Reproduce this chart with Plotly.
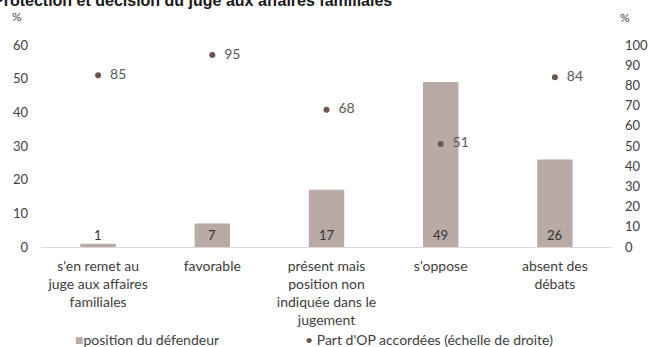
import plotly.graph_objects as go

# Data
categories = [
    "s'en remet au<br>juge aux affaires<br>familiales",
    "favorable",
    "présent mais<br>position non<br>indiquée dans le<br>jugement",
    "s'oppose",
    "absent des<br>débats",
]
position_defendeur = [1, 7, 17, 49, 26]
part_op_accordees = [85, 95, 68, 51, 84]
left_ticks = [0, 10, 20, 30, 40, 50, 60]
right_ticks = [0, 10, 20, 30, 40, 50, 60, 70, 80, 90, 100]

BAR_COLOR = "#b9aaa5"
DOT_COLOR = "#6b5650"
TEXT_COLOR = "#404040"
FONT = "Lato"

fig = go.Figure()

fig.add_trace(go.Bar(
    x=categories, y=position_defendeur,
    name="position du défendeur",
    marker=dict(color=BAR_COLOR, line=dict(width=0)),
    width=0.31,
    showlegend=False,
))

fig.add_trace(go.Scatter(
    x=categories, y=part_op_accordees,
    name="Part d'OP accordées (échelle de droite)",
    mode="markers+text",
    marker=dict(color=DOT_COLOR, size=6),
    text=["\u00a0\u00a0" + str(v) for v in part_op_accordees],
    textposition="middle right",
    textfont=dict(family=FONT, size=14, color="#595959"),
    yaxis="y2",
    showlegend=False,
    cliponaxis=False,
))

annotations = []

# Bar value labels sitting on the baseline
for cat, val in zip(categories, position_defendeur):
    annotations.append(dict(
        x=cat, y=0, xref="x", yref="y",
        text=str(val), showarrow=False,
        yanchor="bottom", yshift=2,
        font=dict(family=FONT, size=13, color="#333333"),
    ))

# Axis unit markers
unit_font = dict(family=FONT, size=12, color=TEXT_COLOR)
annotations += [
    dict(xref="paper", yref="paper", x=-0.042, y=1.139, xanchor="center", yanchor="middle",
         text="%", showarrow=False, font=unit_font),
    dict(xref="paper", yref="paper", x=1.023, y=1.134, xanchor="center", yanchor="middle",
         text="%", showarrow=False, font=unit_font),
]

# Title (runs off the top-left edge)
annotations.append(dict(
    xref="paper", yref="paper", x=-0.088, y=1.218, xanchor="left", yanchor="middle",
    text="<b>Protection et décision du juge aux affaires familiales</b>",
    showarrow=False,
    font=dict(family="Liberation Sans", size=16, color="#1a1a1a"),
))

# Legend
annotations += [
    dict(xref="paper", yref="paper", x=(73 - 41) / 571, y=-0.46, xanchor="left", yanchor="middle",
         text=f"<span style='color:{BAR_COLOR}'>■</span>position du défendeur",
         showarrow=False, font=dict(family=FONT, size=14, color=TEXT_COLOR)),
    dict(xref="paper", yref="paper", x=(303 - 41) / 571, y=-0.46, xanchor="left", yanchor="middle",
         text=f"<span style='color:{DOT_COLOR}'>•</span> Part d'OP accordées (échelle de droite)",
         showarrow=False, font=dict(family=FONT, size=14, color=TEXT_COLOR)),
]

fig.update_layout(
    width=651, height=347,
    margin=dict(l=41, r=39, t=45, b=100, autoexpand=False),
    paper_bgcolor="white", plot_bgcolor="white",
    font=dict(family=FONT, size=13, color=TEXT_COLOR),
    bargap=0.69,
    showlegend=False,
    annotations=annotations,
    xaxis=dict(
        showgrid=False, zeroline=False, showline=True, linecolor="#d9d9d9", linewidth=1,
        ticks="", tickfont=dict(family=FONT, size=14, color=TEXT_COLOR),
        ticklabelstandoff=6,
    ),
    yaxis=dict(
        range=[0, 60], tickvals=left_ticks, showgrid=False, zeroline=False,
        showline=False, ticks="", ticklabelstandoff=12,
        tickfont=dict(family=FONT, size=13, color=TEXT_COLOR),
    ),
    yaxis2=dict(
        range=[0, 100], tickvals=right_ticks, overlaying="y", side="right",
        showgrid=False, zeroline=False, showline=False, ticks="", ticklabelstandoff=12,
        tickfont=dict(family=FONT, size=13, color=TEXT_COLOR),
    ),
)

fig.write_html("out.html")
